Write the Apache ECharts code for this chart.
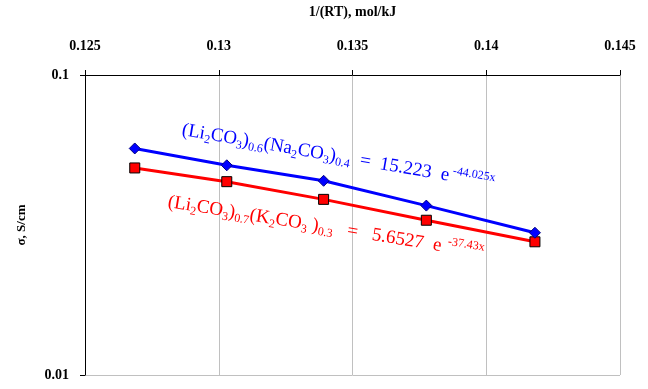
<!DOCTYPE html>
<html><head><meta charset="utf-8">
<script src="https://cdn.jsdelivr.net/npm/echarts@6/dist/echarts.min.js"></script>
<style>html,body{margin:0;padding:0;background:#fff}#c{width:648px;height:389px}</style>
</head><body><div id="c"></div>
<script>
var xValues = [0.12686, 0.13030, 0.13392, 0.13776, 0.14182];
var naValues = [0.0569, 0.0500, 0.0444, 0.0367, 0.0298];
var kValues = [0.0490, 0.0441, 0.0385, 0.0328, 0.0278];
var xTicks = ['0.125', '0.13', '0.135', '0.14', '0.145'];
var yTicks = ['0.01', '0.1'];
var naLabel = '(Li{sub|2}CO{sub|3}){sub|0.6}(Na{sub|2}CO{sub|3}){sub|0.4}  =  15.223  e{sup| -44.025x}';
var kLabel = '(Li{sub|2}CO{sub|3}){sub|0.7}(K{sub|2}CO{sub|3} ){sub|0.3}   =   5.6527  e{sup|  -37.43x}';

function pairs(xs, ys){ return xs.map(function(x,i){return [x, ys[i]];}); }
var serif = '"Liberation Serif","DejaVu Serif",serif';
function rich(color){
  return {
    sub:{fontSize:12, fontFamily:serif, fill:color, verticalAlign:'bottom', lineHeight:23},
    sup:{fontSize:12, fontFamily:serif, fill:color, verticalAlign:'top', lineHeight:23}
  };
}
var chart = echarts.init(document.getElementById('c'));
chart.setOption({
  animation:false,
  grid:{left:85, right:28, top:69, bottom:14},
  xAxis:{
    type:'value', position:'top', min:0.125, max:0.145, interval:0.005,
    name:'1/(RT), mol/kJ', nameLocation:'middle', nameGap:56,
    nameTextStyle:{fontFamily:serif, fontSize:14, fontWeight:'bold', color:'#000'},
    axisLine:{show:true, lineStyle:{color:'#000', width:1}},
    axisTick:{show:true, length:5, lineStyle:{color:'#000'}},
    axisLabel:{fontFamily:serif, fontSize:14, fontWeight:'bold', color:'#000', margin:22,
      formatter:function(v){ var s = xTicks.filter(function(t){return Math.abs(parseFloat(t)-v)<1e-9;}); return s.length?s[0]:''; }},
    splitLine:{show:true, lineStyle:{color:'#c0c0c0', width:1}}
  },
  yAxis:{
    type:'log', logBase:10, min:0.01, max:0.1,
    name:'σ, S/cm', nameLocation:'middle', nameGap:57, nameRotate:90,
    nameTextStyle:{fontFamily:serif, fontSize:13, fontWeight:'bold', color:'#000'},
    axisLine:{show:true, lineStyle:{color:'#000', width:1}},
    axisTick:{show:true, length:5, lineStyle:{color:'#000'}},
    axisLabel:{fontFamily:serif, fontSize:14, fontWeight:'bold', color:'#000', margin:16,
      formatter:function(v){ return Math.abs(v-0.1)<1e-9 ? yTicks[1] : (Math.abs(v-0.01)<1e-9 ? yTicks[0] : ''); }},
    splitLine:{show:true, lineStyle:{color:'#c0c0c0', width:1}}
  },
  series:[
    {type:'line', data:pairs(xValues, naValues), symbol:'diamond', symbolSize:11,
      lineStyle:{color:'#0000ff', width:3}, itemStyle:{color:'#0000ff', borderColor:'#000080', borderWidth:1}, z:3},
    {type:'line', data:pairs(xValues, kValues), symbol:'rect', symbolSize:10,
      lineStyle:{color:'#ff0000', width:3}, itemStyle:{color:'#ff0000', borderColor:'#000', borderWidth:1}, z:2}
  ],
  graphic:[
    {type:'text', x:182, y:130, rotation:-0.17, z:10,
      style:{text:naLabel, fill:'#0000ff', fontFamily:serif, fontSize:19, textAlign:'left', textVerticalAlign:'middle', rich:rich('#0000ff')}},
    {type:'text', x:168, y:202, rotation:-0.16, z:10,
      style:{text:kLabel, fill:'#ff0000', fontFamily:serif, fontSize:19, textAlign:'left', textVerticalAlign:'middle', rich:rich('#ff0000')}}
  ]
});
</script></body></html>
